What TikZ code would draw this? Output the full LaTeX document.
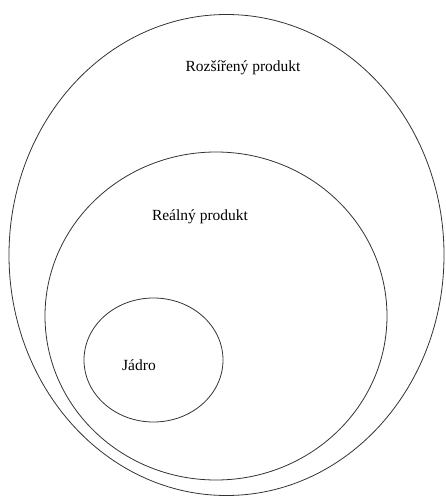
\documentclass[tikz,border=0pt]{standalone}
\usepackage{fontspec}
\setmainfont{Liberation Serif}
\begin{document}
\begin{tikzpicture}[x=1pt,y=-1pt,
  ring/.style={draw=black!80, line width=0.8pt},
  lbl/.style={font=\fontsize{15.5}{18}\selectfont, inner sep=0pt}]
\useasboundingbox (0,0) rectangle (445,497);
\draw[ring] (226.5,255) ellipse [x radius=217.5, y radius=240.5];
\draw[ring] (216,316) ellipse [x radius=171, y radius=164];
\draw[ring] (153.5,360) ellipse [x radius=69.5, y radius=62];
\node[lbl] (ext) at (243,68) {Rozšířený produkt};
\node[lbl] (real) at (200,217) {Reálný produkt};
\node[lbl] (core) at (139,365) {Jádro};
\end{tikzpicture}
\end{document}
